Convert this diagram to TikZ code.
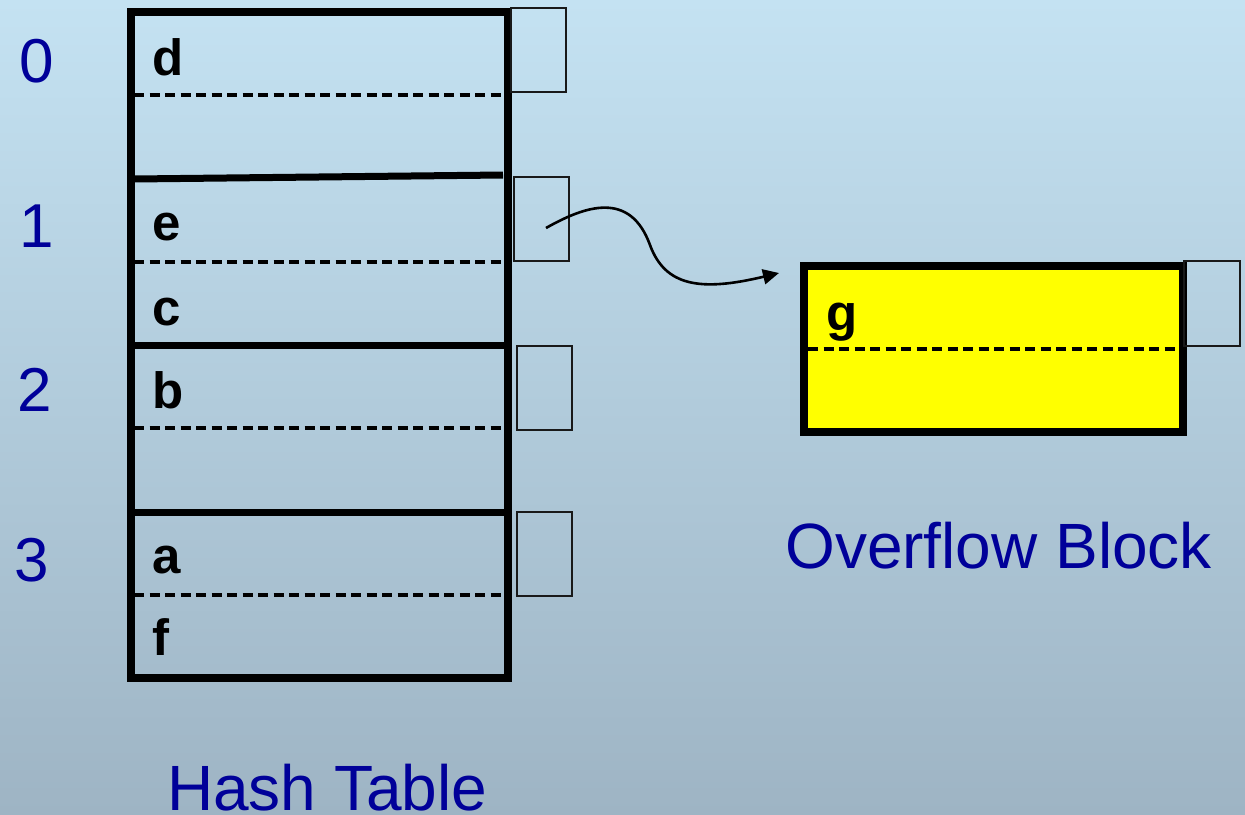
\documentclass[tikz,border=0pt]{standalone}
\usepackage{fontspec}
\setmainfont{Liberation Sans}
\usetikzlibrary{arrows.meta}
\definecolor{bgtop}{RGB}{196,226,242}
\definecolor{bgbot}{RGB}{158,180,196}
\definecolor{lbl}{RGB}{0,0,153}
\definecolor{ptr}{RGB}{25,25,25}
\definecolor{blockfill}{RGB}{255,255,0}
\begin{document}
\begin{tikzpicture}[x=1pt,y=-1pt,
  border/.style={line width=7.5pt},
  sepline/.style={line width=7pt},
  dashsep/.style={line width=3.5pt, dash pattern=on 10pt off 5.5pt},
  ptrbox/.style={draw=ptr, line width=1.6pt, minimum width=55pt, minimum height=84pt, inner sep=0pt, rectangle, anchor=north west},
  key/.style={font=\fontsize{51}{51}\selectfont\bfseries, anchor=base west, inner sep=0pt},
  idx/.style={font=\fontsize{62}{62}\selectfont, text=lbl, anchor=base west, inner sep=0pt},
  caption/.style={font=\fontsize{64}{64}\selectfont, text=lbl, anchor=base west, inner sep=0pt},
  link/.style={line width=2.6pt, -{Triangle[length=16pt,width=15pt]}}
]
\useasboundingbox (0,0) rectangle (1245,814);
\shade[top color=bgtop, bottom color=bgbot] (0,0) rectangle (1245,814);

% hash table
\draw[border] (131,12) rectangle (508,678);
\draw[sepline] (134,179) -- (503,175);
\draw[sepline] (131,345) -- (508,345);
\draw[sepline] (131,512) -- (508,512);
\foreach \y in {95,262,428,595} \draw[dashsep] (134,\y) -- (505,\y);

% pointer boxes
\node[ptrbox] (p0) at (510,7) {};
\node[ptrbox] (p1) at (513,176) {};
\node[ptrbox] (p2) at (516,345) {};
\node[ptrbox] (p3) at (516,511) {};

% keys
\node[key] (kd) at (152,75) {d};
\node[key] (ke) at (152,240) {e};
\node[key] (kc) at (152,325) {c};
\node[key] (kb) at (152,408) {b};
\node[key] (ka) at (152,573) {a};
\node[key] (kf) at (152,655) {f};

% bucket indices
\node[idx] (i0) at (19,82) {0};
\node[idx] (i1) at (19,247) {1};
\node[idx] (i2) at (17,411) {2};
\node[idx] (i3) at (14,581) {3};

% overflow block
\fill[blockfill] (804,266) rectangle (1183,432);
\draw[dashsep] (808,349) -- (1180,349);
\draw[border] (804,266) rectangle (1183,432);
\node[ptrbox, minimum width=56pt, minimum height=85pt] (p4) at (1183,260) {};
\node[key] (kg) at (826,330) {g};

% captions
\node[caption] (ht) at (167,810) {Hash Table};
\node[caption] (ob) at (785,568) {Overflow Block};

% pointer arrow
\coordinate (start) at (546,228);
\coordinate (tip) at (779,273);
\draw[link] (start) .. controls (585,206) and (630,190) .. (650,245)
  .. controls (665,286) and (700,292) .. (tip);
\end{tikzpicture}
\end{document}
